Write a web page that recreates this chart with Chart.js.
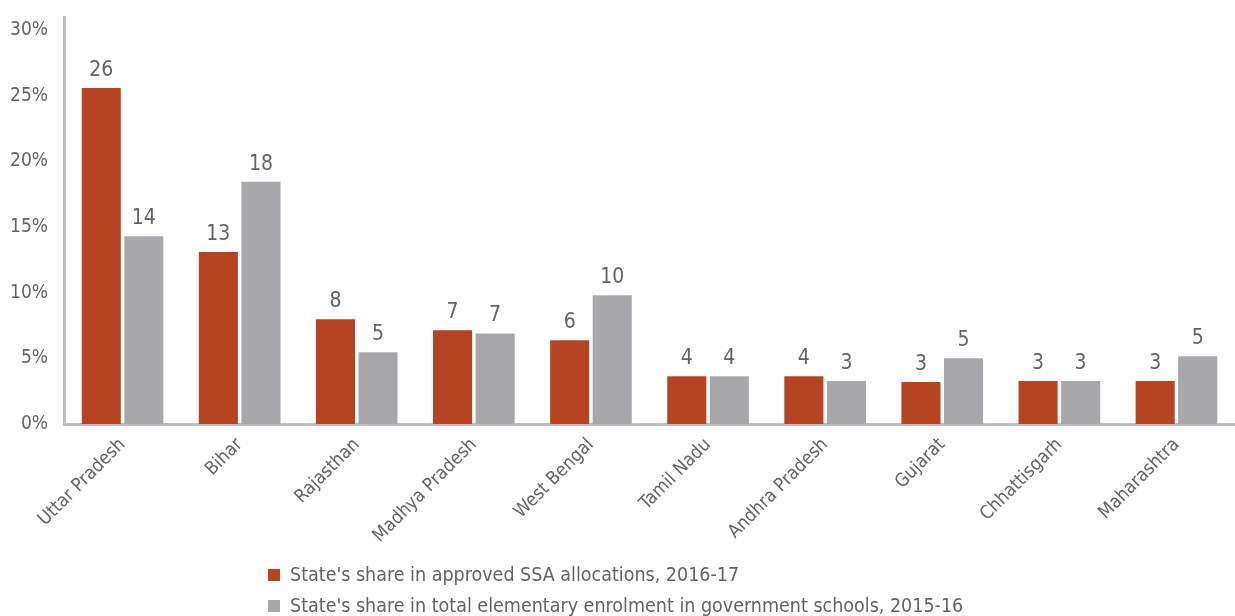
<!DOCTYPE html>
<html>
<head>
<meta charset="utf-8">
<script src="https://cdn.jsdelivr.net/npm/chart.js@4/dist/chart.umd.min.js"></script>
<style>
  html, body { margin: 0; padding: 0; background: #fff; }
  #wrap { position: relative; width: 1235px; height: 616px; }
  #legend { position: absolute; left: 268px; top: 559px; font-family: "DejaVu Sans Condensed", sans-serif; font-size: 19.5px; color: #636366; }
  .item { display: flex; align-items: center; height: 31px; }
  .box { width: 12px; height: 12px; margin-right: 10px; }
</style>
</head>
<body>
<div id="wrap">
  <canvas id="c" width="1235" height="616"></canvas>
  <div id="legend"></div>
</div>
<script>
const categories = ["Uttar Pradesh", "Bihar", "Rajasthan", "Madhya Pradesh", "West Bengal", "Tamil Nadu", "Andhra Pradesh", "Gujarat", "Chhattisgarh", "Maharashtra"];
const ssaShare = [25.6, 13.1, 7.97, 7.14, 6.38, 3.64, 3.64, 3.19, 3.27, 3.27];
const enrolShare = [14.3, 18.45, 5.47, 6.9, 9.8, 3.64, 3.27, 5.01, 3.27, 5.16];
const seriesNames = ["State's share in approved SSA allocations, 2016-17", "State's share in total elementary enrolment in government schools, 2015-16"];
const yTicks = [0, 5, 10, 15, 20, 25, 30];

const colors = ["#b64322", "#a8a7ab"];
const textColor = "#646467";
const fontFam = "'DejaVu Sans Condensed', sans-serif";

const valueLabels = {
  id: 'valueLabels',
  afterDatasetsDraw(chart) {
    const ctx = chart.ctx;
    ctx.save();
    ctx.font = "21px " + fontFam;
    ctx.fillStyle = textColor;
    ctx.textAlign = 'center';
    ctx.textBaseline = 'bottom';
    chart.data.datasets.forEach((ds, i) => {
      chart.getDatasetMeta(i).data.forEach((bar, j) => {
        ctx.fillText(String(Math.round(ds.data[j])), bar.x, bar.y - 7);
      });
    });
    ctx.restore();
  }
};

new Chart(document.getElementById('c'), {
  type: 'bar',
  data: {
    labels: categories,
    datasets: [
      { label: seriesNames[0], data: ssaShare, backgroundColor: colors[0], barPercentage: 0.918, categoryPercentage: 0.727 },
      { label: seriesNames[1], data: enrolShare, backgroundColor: colors[1], barPercentage: 0.918, categoryPercentage: 0.727 }
    ]
  },
  options: {
    responsive: false,
    animation: false,
    layout: { padding: { left: 0, right: 0, top: 17, bottom: 0 } },
    plugins: { legend: { display: false }, tooltip: { enabled: false } },
    scales: {
      x: {
        grid: { display: false },
        border: { display: true, color: "#c0bfc4", width: 3 },
        ticks: { color: textColor, font: { family: fontFam, size: 18.5 }, minRotation: 45, maxRotation: 45, padding: 2 },
        afterFit(s) { s.height = 192; }
      },
      y: {
        min: 0, max: 31,
        grid: { display: false },
        border: { display: true, color: "#c0bfc4", width: 3 },
        afterBuildTicks(s) { s.ticks = yTicks.map(v => ({ value: v })); },
        ticks: { color: textColor, font: { family: fontFam, size: 19 }, padding: 8, callback: v => v + '%' },
        afterFit(s) { s.width = 64; s.paddingTop = 0; s.paddingBottom = 0; }
      }
    }
  },
  plugins: [valueLabels]
});

const leg = document.getElementById('legend');
seriesNames.forEach((n, i) => {
  const d = document.createElement('div');
  d.className = 'item';
  d.innerHTML = '<span class="box" style="background:' + colors[i] + '"></span><span>' + n + '</span>';
  leg.appendChild(d);
});
</script>
</body>
</html>
